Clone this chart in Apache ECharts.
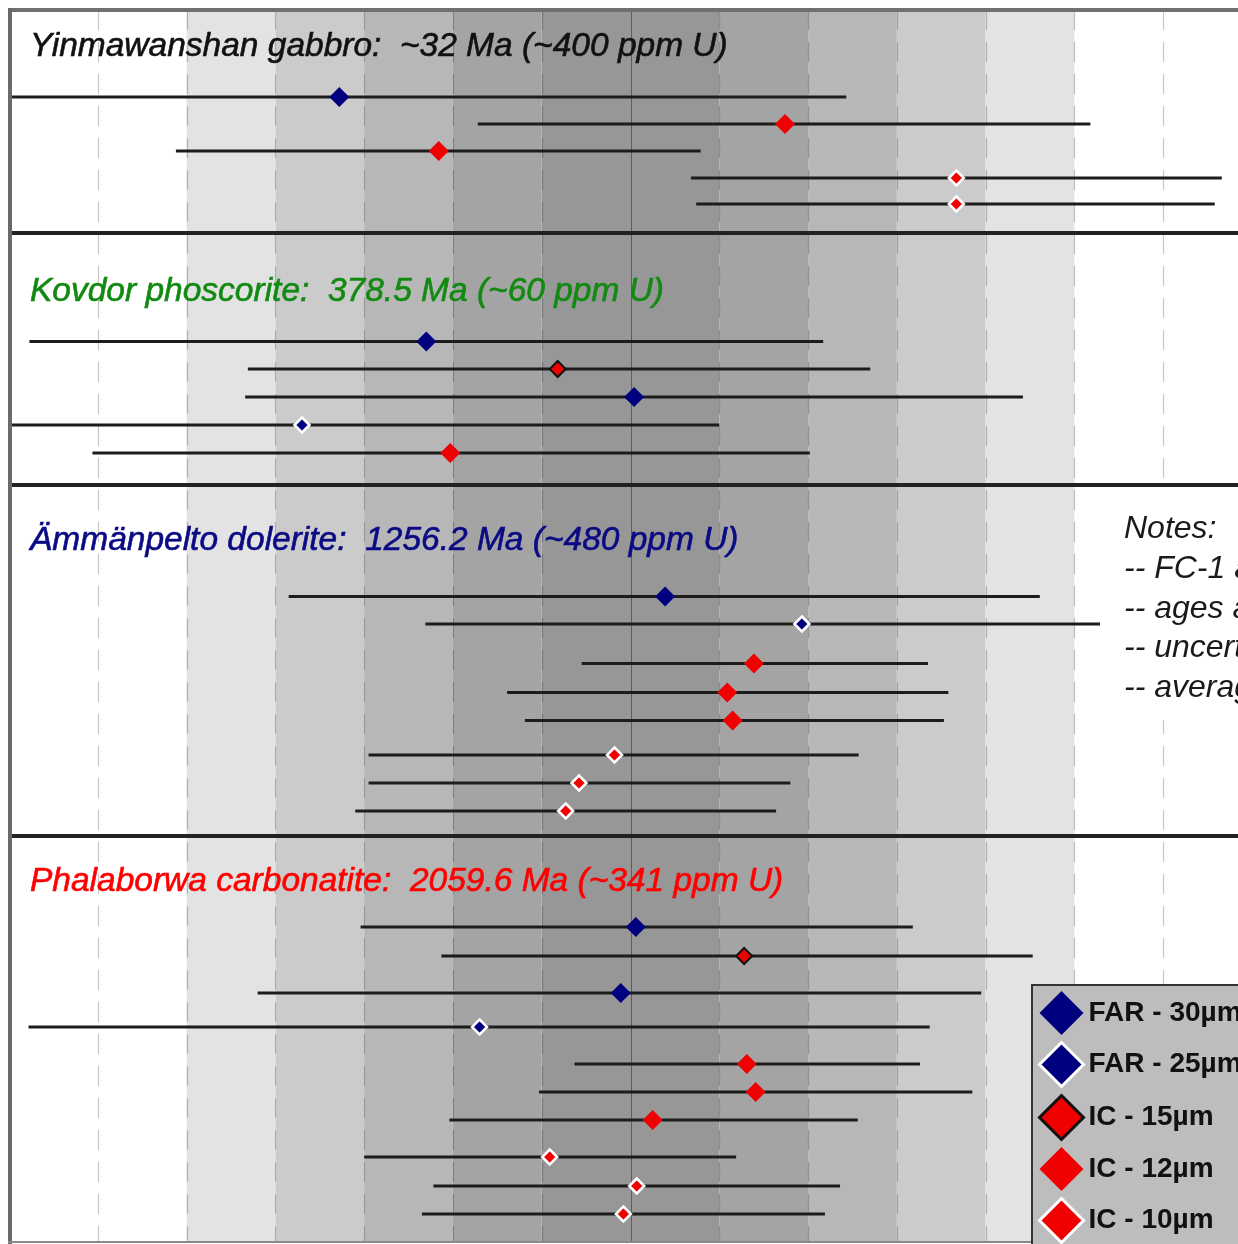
<!DOCTYPE html>
<html>
<head>
<meta charset="utf-8">
<script src="https://cdn.jsdelivr.net/npm/echarts@6/dist/echarts.min.js"></script>
<style>
  html, body { margin: 0; padding: 0; background: #ffffff; }
  #chart { width: 1238px; height: 1244px; }
</style>
</head>
<body>
<div id="chart"></div>
<script>
// Spot ages as % offset from each sample's reference age, with the ends of
// their uncertainty bars (same units). One set of arrays per sample.
const yinmawanshanAge  = [-3.28, 1.74, -2.16, 3.67, 3.67];
const yinmawanshanLow  = [-7.00, -1.72, -5.12, 0.68, 0.74];
const yinmawanshanHigh = [2.43, 5.18, 0.79, 6.66, 6.58];
const yinmawanshanSpot = ['FAR - 30µm', 'IC - 12µm', 'IC - 12µm', 'IC - 10µm', 'IC - 10µm'];

const kovdorAge  = [-2.30, -0.82, 0.04, -3.70, -2.03];
const kovdorLow  = [-6.77, -4.31, -4.34, -7.00, -6.06];
const kovdorHigh = [2.17, 2.70, 4.42, 1.00, 2.02];
const kovdorSpot = ['FAR - 30µm', 'IC - 15µm', 'FAR - 30µm', 'FAR - 25µm', 'IC - 12µm'];

const ammanpeltoAge  = [0.39, 1.93, 1.39, 1.09, 1.15, -0.18, -0.58, -0.73];
const ammanpeltoLow  = [-3.85, -2.31, -0.55, -1.39, -1.19, -2.95, -2.95, -3.10];
const ammanpeltoHigh = [4.61, 6.18, 3.35, 3.58, 3.53, 2.57, 1.80, 1.64];
const ammanpeltoSpot = ['FAR - 30µm', 'FAR - 25µm', 'IC - 12µm', 'IC - 12µm', 'IC - 12µm',
                        'IC - 10µm', 'IC - 10µm', 'IC - 10µm'];

const phalaborwaAge  = [0.06, 1.28, -0.11, -1.70, 1.31, 1.41, 0.25, -0.91, 0.07, -0.08];
const phalaborwaLow  = [-3.04, -2.13, -4.20, -6.78, -0.63, -1.03, -2.04, -3.00, -2.22, -2.35];
const phalaborwaHigh = [3.18, 4.53, 3.95, 3.37, 3.26, 3.85, 2.56, 1.19, 2.36, 2.19];
const phalaborwaSpot = ['FAR - 30µm', 'IC - 15µm', 'FAR - 30µm', 'FAR - 25µm', 'IC - 12µm',
                        'IC - 12µm', 'IC - 12µm', 'IC - 10µm', 'IC - 10µm', 'IC - 10µm'];

const sampleTitles = [
  'Yinmawanshan gabbro:  ~32 Ma (~400 ppm U)',
  'Kovdor phoscorite:  378.5 Ma (~60 ppm U)',
  'Ämmänpelto dolerite:  1256.2 Ma (~480 ppm U)',
  'Phalaborwa carbonatite:  2059.6 Ma (~341 ppm U)'
];

const spotNames = ['FAR - 30µm', 'FAR - 25µm', 'IC - 15µm', 'IC - 12µm', 'IC - 10µm'];

// Guide lines every 1 % and the grey bands (darkest = within ±1 %)
const guideTicks = [-6, -5, -4, -3, -2, -1, 0, 1, 2, 3, 4, 5, 6];
const bandShades = ['#979797', '#a4a4a4', '#b7b7b7', '#cbcbcb', '#e3e3e3'];

const noteLines = [
  'Notes:',
  '-- FC-1 as primary standard',
  '-- ages as 207Pb/206Pb',
  '-- uncertainties at 2σ',
  '-- averages weighted by error'
];

// ---- layout (vertical units are pixels of the plot area) ----
const PLOT_H = 1232;
const panelTops = [0, 223, 475, 826];
const titleOffsets = [37, 59, 56, 46];
const rowOffsets = [
  [87, 114, 141, 168, 194],
  [108.5, 136, 164, 192, 220],
  [111.5, 139, 178.5, 207.5, 235.5, 270, 298, 326],
  [91, 120, 157, 191, 228, 256, 284, 321, 350, 378]
];

const NAVY = '#00007f';
const RED = '#f00000';
const titleColors = ['#111111', '#128a12', '#0a0a85', '#ff0000'];
const TEXT_FONT = '"Liberation Sans", Arial, sans-serif';

const samples = [
  { age: yinmawanshanAge, low: yinmawanshanLow, high: yinmawanshanHigh, spot: yinmawanshanSpot },
  { age: kovdorAge, low: kovdorLow, high: kovdorHigh, spot: kovdorSpot },
  { age: ammanpeltoAge, low: ammanpeltoLow, high: ammanpeltoHigh, spot: ammanpeltoSpot },
  { age: phalaborwaAge, low: phalaborwaLow, high: phalaborwaHigh, spot: phalaborwaSpot }
];

const spotStyle = {
  'FAR - 30µm': { size: 20, itemStyle: { color: NAVY } },
  'FAR - 25µm': { size: 15, itemStyle: { color: NAVY, borderColor: '#ffffff', borderWidth: 2.5 } },
  'IC - 15µm':  { size: 16, itemStyle: { color: RED, borderColor: '#111111', borderWidth: 2 } },
  'IC - 12µm':  { size: 20, itemStyle: { color: RED } },
  'IC - 10µm':  { size: 15, itemStyle: { color: RED, borderColor: '#ffffff', borderWidth: 2.5 } }
};

// ---- derived series data ----
const bandData = [[-1, 1, 0]];
for (let k = 1; k < bandShades.length; k++) {
  bandData.push([k, k + 1, k]);
  bandData.push([-(k + 1), -k, k]);
}

const errorBarData = [];
const markerData = {};
spotNames.forEach(n => { markerData[n] = []; });
const titleData = [];
samples.forEach((s, p) => {
  titleData.push([-7, panelTops[p] + titleOffsets[p], p]);
  s.age.forEach((a, i) => {
    const y = panelTops[p] + rowOffsets[p][i];
    errorBarData.push([s.low[i], s.high[i], y]);
    markerData[s.spot[i]].push([a, y]);
  });
});
const separatorData = panelTops.slice(1).map(t => [-7, t]);

const chart = echarts.init(document.getElementById('chart'), null, { renderer: 'canvas' });

const series = [
  {
    type: 'custom', name: 'bands', silent: true, z: 1,
    data: bandData,
    renderItem: function (params, api) {
      const a = api.coord([api.value(0), 0]);
      const b = api.coord([api.value(1), PLOT_H]);
      return {
        type: 'rect',
        shape: { x: a[0], y: a[1], width: b[0] - a[0], height: b[1] - a[1] },
        style: { fill: bandShades[api.value(2)] }
      };
    }
  },
  {
    type: 'custom', name: 'guides', silent: true, z: 2,
    data: guideTicks.map(v => [v, 0]),
    renderItem: function (params, api) {
      const v = api.value(0);
      const a = api.coord([v, 0]);
      const b = api.coord([v, PLOT_H]);
      const x = Math.round(a[0]) + 0.5;
      return {
        type: 'line',
        shape: { x1: x, y1: a[1], x2: x, y2: b[1] },
        style: v === 0
          ? { stroke: 'rgba(0,0,0,0.38)', lineWidth: 1 }
          : { stroke: 'rgba(0,0,0,0.22)', lineWidth: 1.2, lineDash: [20, 12] }
      };
    }
  },
  {
    type: 'custom', name: 'separators', silent: true, z: 3,
    data: separatorData,
    renderItem: function (params, api) {
      const p = api.coord([api.value(0), api.value(1)]);
      const cs = params.coordSys;
      return {
        type: 'line',
        shape: { x1: cs.x, y1: p[1], x2: cs.x + cs.width, y2: p[1] },
        style: { stroke: '#222222', lineWidth: 4 }
      };
    }
  },
  {
    type: 'custom', name: 'uncertainty', silent: true, z: 3,
    data: errorBarData,
    renderItem: function (params, api) {
      const a = api.coord([api.value(0), api.value(2)]);
      const b = api.coord([api.value(1), api.value(2)]);
      return {
        type: 'line',
        shape: { x1: a[0], y1: a[1], x2: b[0], y2: b[1] },
        style: { stroke: '#1c1c1c', lineWidth: 3 }
      };
    }
  },
  {
    type: 'custom', name: 'titles', silent: true, z: 6,
    data: titleData,
    renderItem: function (params, api) {
      const p = api.coord([api.value(0), api.value(1)]);
      const idx = api.value(2);
      return {
        type: 'text',
        style: {
          text: sampleTitles[idx],
          x: p[0] + 21, y: p[1],
          fill: titleColors[idx],
          stroke: titleColors[idx], lineWidth: 0.6,
          font: 'italic 33.5px ' + TEXT_FONT,
          align: 'left', verticalAlign: 'middle',
          textAlign: 'left', textVerticalAlign: 'middle'
        }
      };
    }
  }
];

spotNames.forEach(name => {
  const st = spotStyle[name];
  series.push({
    type: 'scatter', name: name, silent: true, z: 5,
    symbol: 'diamond', symbolSize: st.size,
    itemStyle: Object.assign({ opacity: 1 }, st.itemStyle),
    emphasis: { disabled: true },
    data: markerData[name]
  });
});

const legendIcon = {
  'FAR - 30µm': { color: NAVY, borderWidth: 0 },
  'FAR - 25µm': { color: NAVY, borderColor: '#ffffff', borderWidth: 3 },
  'IC - 15µm':  { color: RED, borderColor: '#111111', borderWidth: 3 },
  'IC - 12µm':  { color: RED, borderWidth: 0 },
  'IC - 10µm':  { color: RED, borderColor: '#ffffff', borderWidth: 3 }
};

const noteElements = [
  { type: 'rect', shape: { x: 1100, y: 488, width: 160, height: 232 }, style: { fill: '#ffffff' }, z: 50 }
];
noteLines.forEach((t, i) => {
  noteElements.push({
    type: 'text', z: 51,
    style: {
      text: t, x: 1124, y: 529 + i * 39.8,
      font: 'italic 32px ' + TEXT_FONT, fill: '#1a1a1a',
      textAlign: 'left', textVerticalAlign: 'middle',
      align: 'left', verticalAlign: 'middle'
    }
  });
});

const option = {
  animation: false,
  backgroundColor: '#ffffff',
  grid: { left: 9, top: 10, width: 1243, height: PLOT_H, outerBoundsMode: 'none', containLabel: false },
  xAxis: {
    type: 'value', min: -7, max: 7,
    axisLine: { show: false }, axisTick: { show: false },
    axisLabel: { show: false }, splitLine: { show: false }
  },
  yAxis: {
    type: 'value', min: 0, max: PLOT_H, inverse: true,
    axisLine: { show: false }, axisTick: { show: false },
    axisLabel: { show: false }, splitLine: { show: false }
  },
  legend: {
    orient: 'vertical', left: 1032, top: 985, height: 300,
    padding: [6, 20, 12, 6], itemGap: 6, itemWidth: 44, itemHeight: 44,
    backgroundColor: '#bdbdbd', borderColor: '#333333', borderWidth: 2,
    selectedMode: false, z: 60,
    textStyle: { fontFamily: TEXT_FONT, fontWeight: 'bold', fontSize: 28, color: '#111111' },
    data: spotNames.map(n => ({ name: n, icon: 'diamond', itemStyle: legendIcon[n] }))
  },
  graphic: [
    ...noteElements,
    { type: 'line', z: 55, shape: { x1: 8, y1: 10, x2: 1238, y2: 10 }, style: { stroke: '#707070', lineWidth: 4 } },
    { type: 'line', z: 55, shape: { x1: 10, y1: 8, x2: 10, y2: 1244 }, style: { stroke: '#6a6a6a', lineWidth: 4 } },
    { type: 'line', z: 55, shape: { x1: 8, y1: 1242, x2: 1238, y2: 1242 }, style: { stroke: '#8a8a8a', lineWidth: 2 } }
  ],
  series: series
};

chart.setOption(option);
</script>
</body>
</html>
